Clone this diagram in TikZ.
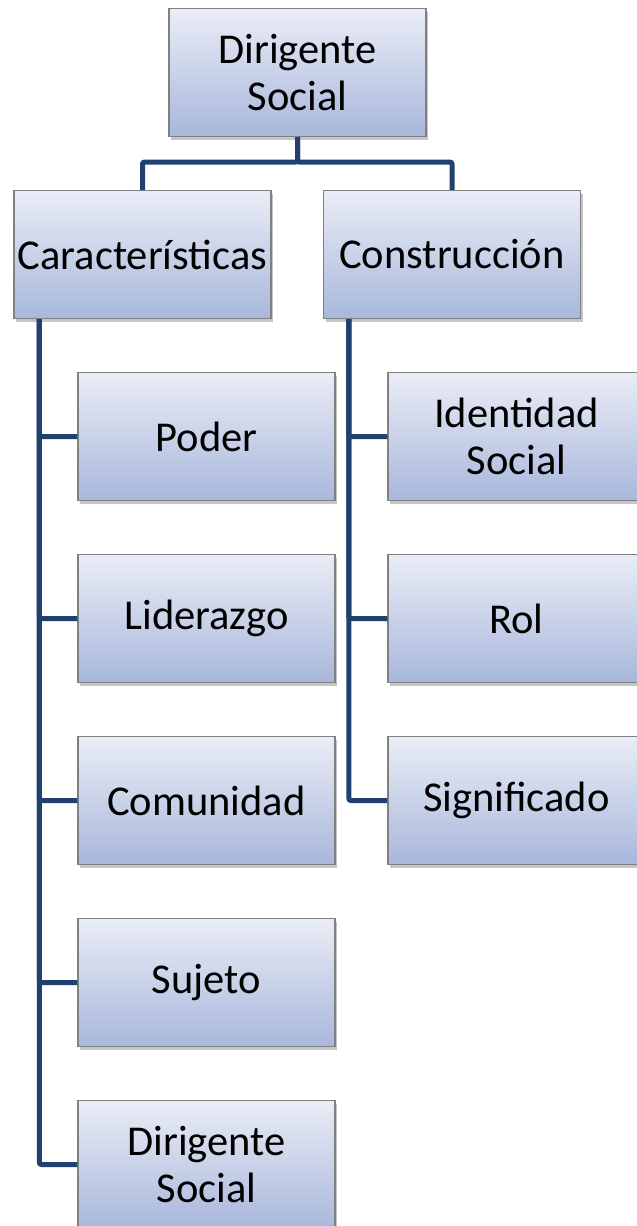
\documentclass[tikz,border=0pt]{standalone}
\usepackage{fontspec}
\setmainfont{Carlito}
\usetikzlibrary{shadows}
\definecolor{linkblue}{RGB}{32,64,112}
\definecolor{boxtop}{RGB}{234,237,246}
\definecolor{boxbot}{RGB}{168,183,219}
\definecolor{boxedge}{RGB}{128,128,128}
\tikzset{
  orgbox/.style={rectangle, draw=boxedge, line width=1.2pt, top color=boxtop, bottom color=boxbot,
    minimum width=257pt, minimum height=128pt, inner sep=0pt, align=center,
    font=\fontsize{42.5}{47}\selectfont, text=black,
    drop shadow={opacity=0.45, shadow xshift=2pt, shadow yshift=-3pt}},
  link/.style={draw=linkblue, line width=5pt, rounded corners=2pt}
}
\begin{document}
\begin{tikzpicture}[x=1pt,y=-1pt]
\useasboundingbox (0,0) rectangle (637,1226);
\clip (0,0) rectangle (637,1226);
\node[orgbox] (top) at (297.5,72.5) {Dirigente\\Social};
\node[orgbox] (char) at (142.5,254.5) {Características};
\node[orgbox] (cons) at (452,254.5) {Construcción};
\node[orgbox] (p1) at (206.5,436.5) {Poder};
\node[orgbox] (p2) at (206.5,618.5) {Liderazgo};
\node[orgbox] (p3) at (206.5,800.5) {Comunidad};
\node[orgbox] (p4) at (206.5,982.5) {Sujeto};
\node[orgbox] (p5) at (206.5,1164.5) {Dirigente\\Social};
\node[orgbox] (c1) at (516.5,436.5) {Identidad\\Social};
\node[orgbox] (c2) at (516.5,618.5) {Rol};
\node[orgbox] (c3) at (516.5,800.5) {Significado};
\draw[link] (top.south) -- ++(0,25) -| (char.north);
\draw[link] (top.south) -- ++(0,25) -| (cons.north);
\foreach \n in {p1,p2,p3,p4,p5}
  \draw[link] ([xshift=26pt]char.south west) |- (\n.west);
\foreach \n in {c1,c2,c3}
  \draw[link] ([xshift=26pt]cons.south west) |- (\n.west);
\end{tikzpicture}
\end{document}
